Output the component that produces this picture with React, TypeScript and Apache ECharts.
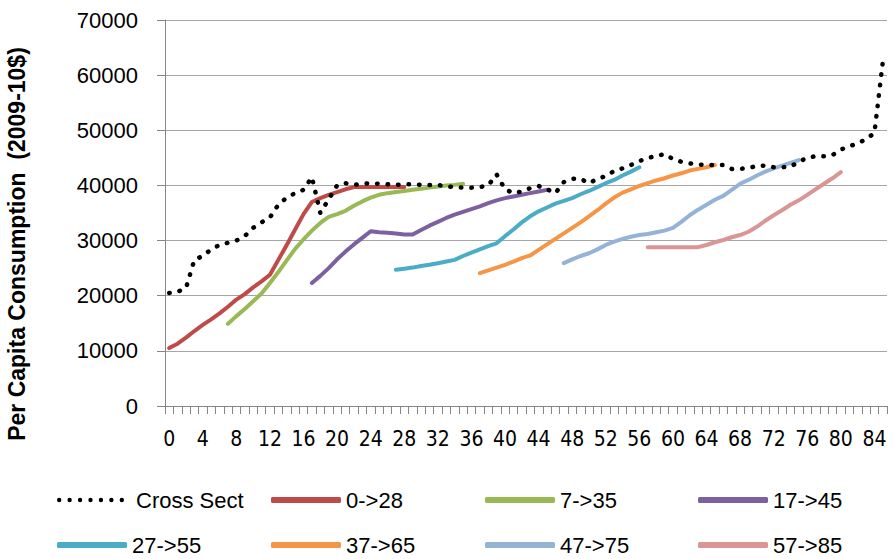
import React, { useEffect, useRef } from "react";
import * as echarts from "echarts";

// Ages 0..85 (category axis)
const ages: string[] = Array.from({ length: 86 }, (_, i) => String(i));

// Cross-sectional profile, ages 0..85
const crossSect: number[] = [
  20500, 20700, 21400, 26500, 27200, 28400, 29200, 29600, 30000, 30800,
  32300, 33300, 34200, 36500, 37800, 38600, 39200, 41500, 35000, 37500,
  40000, 40400, 40100, 40300, 40400, 40300, 40200, 40100, 40200, 40200,
  40100, 40100, 40100, 39800, 39700, 39600, 39600, 39700, 40000, 42000,
  39300, 38600, 38900, 39500, 39900, 39300, 38600, 40600, 41200, 41200,
  40400, 41200, 41700, 42600, 43100, 43700, 44400, 45000, 45300, 45700,
  44800, 44300, 44000, 43800, 43700, 43700, 43700, 43000, 43000, 43200,
  43500, 43600, 43300, 43300, 43400, 44300, 45000, 45300, 45300, 45500,
  46500, 47100, 47600, 48400, 49500, 62400,
];

// Cohort profiles (values start at the first age of each cohort)
const cohort0Start = 0;
const cohort0: number[] = [
  10500, 11300, 12400, 13600, 14700, 15700, 16800, 18000, 19300, 20300,
  21500, 22600, 23800, 26500, 29200, 32000, 34800, 37000, 37700, 38300,
  38800, 39300, 39700, 39700, 39700, 39700, 39700, 39700, 39700,
];
const cohort7Start = 7;
const cohort7: number[] = [
  14900, 16300, 17600, 19000, 20400, 22300, 24300, 26400, 28500, 30200,
  31800, 33200, 34300, 34800, 35400, 36300, 37100, 37800, 38300, 38600,
  38800, 39000, 39200, 39400, 39600, 39800, 40000, 40100, 40300,
];
const cohort17Start = 17;
const cohort17: number[] = [
  22300, 23600, 25000, 26600, 28000, 29300, 30500, 31700, 31500, 31400,
  31300, 31100, 31100, 31900, 32700, 33400, 34100, 34700, 35200, 35700,
  36200, 36800, 37300, 37700, 38000, 38300, 38600, 38900, 39200,
];
const cohort27Start = 27;
const cohort27: number[] = [
  24700, 24900, 25100, 25400, 25600, 25900, 26200, 26500, 27200, 27800,
  28400, 29000, 29500, 30800, 32000, 33300, 34400, 35300, 36000, 36700,
  37200, 37700, 38400, 39000, 39700, 40400, 41000, 41800, 42500, 43300,
];
const cohort37Start = 37;
const cohort37: number[] = [
  24100, 24600, 25100, 25600, 26200, 26800, 27300, 28300, 29300, 30300,
  31300, 32300, 33300, 34400, 35500, 36700, 37800, 38700, 39300, 39900,
  40400, 40900, 41300, 41800, 42200, 42700, 43000, 43300, 43700,
];
const cohort47Start = 47;
const cohort47: number[] = [
  25900, 26600, 27200, 27700, 28400, 29200, 29800, 30300, 30700, 31000,
  31200, 31500, 31800, 32300, 33400, 34600, 35600, 36500, 37400, 38100,
  39200, 40300, 41000, 41800, 42500, 43100, 43600, 44100, 44600,
];
const cohort57Start = 57;
const cohort57: number[] = [
  28800, 28800, 28800, 28800, 28800, 28800, 28800, 29200, 29700, 30100,
  30600, 31000, 31600, 32500, 33600, 34600, 35500, 36500, 37300, 38300,
  39300, 40300, 41300, 42400,
];

const seriesNames: string[] = [
  "Cross Sect", "0->28", "7->35", "17->45", "27->55", "37->65", "47->75", "57->85",
];
const seriesColors: string[] = [
  "#000000", "#BE4B48", "#98B954", "#7D60A0", "#4AACC5", "#F59646", "#95B3D7", "#D99694",
];

const yTicks = { min: 0, max: 70000, interval: 10000 };
const yTitle = "Per Capita Consumption  (2009-10$)";

function pad(start: number, vals: number[]): (number | null)[] {
  const out: (number | null)[] = ages.map(() => null);
  vals.forEach((v, i) => {
    out[start + i] = v;
  });
  return out;
}

const FONT = "'Liberation Sans', Arial, sans-serif";

// seven round dots for the dotted-line legend icon
const dotsIcon =
  "path://" +
  [0, 1, 2, 3, 4, 5, 6]
    .map((k) => {
      const cx = 2.2 + k * 10.5;
      return `M${cx - 2.2},2.2a2.2,2.2 0 1,0 4.4,0a2.2,2.2 0 1,0 -4.4,0z`;
    })
    .join(" ");

export default function App() {
  const ref = useRef<HTMLDivElement>(null);
  useEffect(() => {
    if (!ref.current) return;
    const chart = echarts.init(ref.current, undefined, { renderer: "svg" });
    const cohorts: [number, number[]][] = [
      [cohort0Start, cohort0],
      [cohort7Start, cohort7],
      [cohort17Start, cohort17],
      [cohort27Start, cohort27],
      [cohort37Start, cohort37],
      [cohort47Start, cohort47],
      [cohort57Start, cohort57],
    ];
    const series: any[] = [
      {
        name: seriesNames[0],
        type: "line",
        data: crossSect,
        symbol: "none",
        z: 3,
        lineStyle: {
          color: seriesColors[0],
          width: 4.5,
          type: [0.5, 10],
          cap: "round",
        },
        itemStyle: { color: seriesColors[0] },
      },
      ...cohorts.map(([s, v], i) => ({
        name: seriesNames[i + 1],
        type: "line",
        data: pad(s, v),
        symbol: "none",
        connectNulls: false,
        z: 2,
        lineStyle: { color: seriesColors[i + 1], width: 4, cap: "round", join: "round" },
        itemStyle: { color: seriesColors[i + 1] },
      })),
    ];
    const colLeft = [57, 271, 485, 698];
    const rowCenter = [502, 547];
    const legends = seriesNames.map((n, i) => {
      const isDots = i === 0;
      return {
        data: [{ name: n, icon: isDots ? dotsIcon : "roundRect" }],
        left: colLeft[i % 4],
        top: rowCenter[Math.floor(i / 4)] - 13,
        padding: 0,
        itemWidth: isDots ? 67 : 70,
        itemHeight: isDots ? 4.4 : 6,
        itemGap: 0,
        itemStyle: { borderWidth: 0 },
        lineStyle: { width: 0 },
        textStyle: {
          fontSize: 22,
          color: "#000",
          fontFamily: FONT,
          padding: isDots ? [0, 0, 0, 7] : [0, 0, 0, 0],
        },
        selectedMode: false,
      };
    });
    chart.setOption({
      animation: false,
      backgroundColor: "#fff",
      grid: { left: 165, right: 7, top: 20, bottom: 153, containLabel: false },
      legend: legends,
      graphic: [
        {
          type: "text",
          x: 17,
          y: 244,
          rotation: Math.PI / 2,
          style: {
            text: yTitle,
            fontSize: 23,
            fontWeight: "bold",
            fill: "#000",
            fontFamily: FONT,
            align: "center",
            verticalAlign: "middle",
          },
        },
      ],
      xAxis: {
        type: "category",
        data: ages,
        boundaryGap: true,
        axisLine: { lineStyle: { color: "#868686", width: 1 } },
        axisTick: { show: true, interval: 0, length: 8, lineStyle: { color: "#868686" } },
        axisLabel: {
          interval: 3,
          margin: 22,
          fontSize: 21,
          color: "#000",
          fontFamily: "'Liberation Sans Narrow', 'DejaVu Sans Condensed', Arial, sans-serif",
        },
        splitLine: { show: false },
      },
      yAxis: {
        type: "value",
        min: yTicks.min,
        max: yTicks.max,
        interval: yTicks.interval,
        axisLine: { show: true, lineStyle: { color: "#868686", width: 1 } },
        axisTick: { show: true, length: 8, lineStyle: { color: "#868686" } },
        axisLabel: {
          margin: 27,
          fontSize: 22,
          color: "#000",
          fontFamily: FONT,
          formatter: (v: number) => String(v),
        },
        splitLine: { show: true, lineStyle: { color: "#A6A6A6", width: 1 } },
      },
      series,
    });
    return () => chart.dispose();
  }, []);
  return (
    <div
      ref={ref}
      style={{ position: "absolute", left: 0, top: 0, width: 894, height: 559 }}
    />
  );
}
